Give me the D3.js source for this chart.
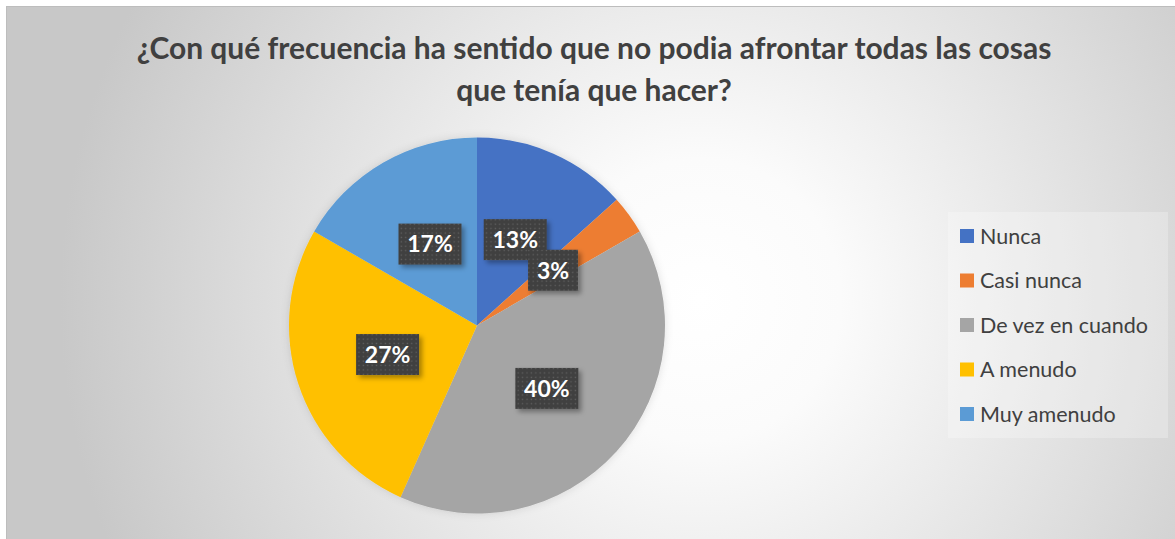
<!DOCTYPE html>
<html>
<head>
<meta charset="utf-8">
<script src="https://cdn.jsdelivr.net/npm/d3@7"></script>
<style>
  body { margin: 0; background: #ffffff; }
  svg { display: block; }
</style>
</head>
<body>
<div id="chart"></div>
<script>
var categories = ['Nunca', 'Casi nunca', 'De vez en cuando', 'A menudo', 'Muy amenudo'];
var counts = [4, 1, 12, 8, 5];
var colors = ['#4472C4', '#ED7D31', '#A5A5A5', '#FFC000', '#5B9BD5'];
var titleLines = ['¿Con qué frecuencia ha sentido que no podia afrontar todas las cosas',
    'que tenía que hacer?'];

var width = 1175, height = 539;
var svg = d3.select('#chart').append('svg')
    .attr('width', width)
    .attr('height', height);

var defs = svg.append('defs');

// chart area background
var bg = defs.append('radialGradient')
    .attr('id', 'bgGrad')
    .attr('gradientUnits', 'userSpaceOnUse')
    .attr('cx', 700).attr('cy', 300).attr('r', 640);
bg.append('stop').attr('offset', '0%').attr('stop-color', '#ffffff');
bg.append('stop').attr('offset', '22%').attr('stop-color', '#fbfbfb');
bg.append('stop').attr('offset', '100%').attr('stop-color', '#c8c8c8');

// dotted fill for the labels
var pat = defs.append('pattern')
    .attr('id', 'dots')
    .attr('patternUnits', 'userSpaceOnUse')
    .attr('width', 4.4).attr('height', 4.4);
pat.append('rect').attr('width', 4.4).attr('height', 4.4).attr('fill', '#404040');
pat.append('rect').attr('x', 1.5).attr('y', 1.5).attr('width', 1.3).attr('height', 1.3).attr('fill', '#606060');

var shadow = defs.append('filter').attr('id', 'shadow')
    .attr('x', '-30%').attr('y', '-30%').attr('width', '160%').attr('height', '160%');
shadow.append('feDropShadow')
    .attr('dx', 3).attr('dy', 3).attr('stdDeviation', 2.5)
    .attr('flood-color', '#000').attr('flood-opacity', 0.35);

var pieShadow = defs.append('filter').attr('id', 'pieShadow')
    .attr('x', '-10%').attr('y', '-10%').attr('width', '120%').attr('height', '120%');
pieShadow.append('feDropShadow')
    .attr('dx', 0).attr('dy', 0).attr('stdDeviation', 4)
    .attr('flood-color', '#000').attr('flood-opacity', 0.12);

svg.append('rect')
    .attr('x', 6.5).attr('y', 6.5)
    .attr('width', width - 6).attr('height', height - 6)
    .attr('fill', 'url(#bgGrad)')
    .attr('stroke', '#bdbdbd')
    .attr('stroke-width', 1);

// title
var title = svg.append('g').attr('class', 'title');
titleLines.forEach(function (line, i) {
    title.append('text')
        .attr('x', 594)
        .attr('y', 59 + i * 42)
        .attr('text-anchor', 'middle')
        .attr('font-family', 'Lato, "Open Sans", sans-serif')
        .attr('font-weight', 'bold')
        .attr('font-size', 26)
        .attr('fill', '#404040')
        .text(line);
});
// shrink/grow the font so the first line spans like the original
var firstLen = title.select('text').node().getComputedTextLength();
var titleSize = 26 * 915 / firstLen;
title.selectAll('text').attr('font-size', titleSize);

// pie
var cx = 477, cy = 325.5, radius = 188;
var total = d3.sum(counts);
var pie = d3.pie().sort(null).value(function (d) { return d; });
var arc = d3.arc().innerRadius(0).outerRadius(radius);
var arcs = pie(counts);

var pieG = svg.append('g')
    .attr('transform', 'translate(' + cx + ',' + cy + ')');

pieG.append('g').attr('filter', 'url(#pieShadow)')
    .selectAll('path')
    .data(arcs)
    .enter().append('path')
    .attr('d', arc)
    .attr('fill', function (d, i) { return colors[i]; });

// data labels
var labels = pieG.selectAll('g.label')
    .data(arcs)
    .enter().append('g')
    .attr('class', 'label')
    .attr('transform', function (d) {
        var c = arc.centroid(d);
        return 'translate(' + c[0] + ',' + c[1] + ')';
    });

labels.each(function (d) {
    var g = d3.select(this);
    var txt = Math.round(d.value / total * 100) + '%';
    var w = txt.length > 2 ? 63 : 50;
    g.append('rect')
        .attr('x', -w / 2).attr('y', -20.5)
        .attr('width', w).attr('height', 41)
        .attr('fill', 'url(#dots)')
        .attr('filter', 'url(#shadow)');
    g.append('text')
        .attr('text-anchor', 'middle')
        .attr('dy', '0.36em')
        .attr('font-family', 'Lato, "Open Sans", sans-serif')
        .attr('font-weight', 'bold')
        .attr('font-size', 23)
        .attr('fill', '#ffffff')
        .text(txt);
});

// legend
var legend = svg.append('g').attr('class', 'legend');
legend.append('rect')
    .attr('x', 948).attr('y', 212)
    .attr('width', 220).attr('height', 226)
    .attr('fill', '#ffffff')
    .attr('fill-opacity', 0.25);

var items = legend.selectAll('g.item')
    .data(categories)
    .enter().append('g')
    .attr('class', 'item')
    .attr('transform', function (d, i) { return 'translate(960,' + (236 + i * 44.5) + ')'; });

items.append('rect')
    .attr('x', 0).attr('y', -7)
    .attr('width', 14).attr('height', 14)
    .attr('fill', function (d, i) { return colors[i]; });

items.append('text')
    .attr('x', 20)
    .attr('dy', '0.35em')
    .attr('font-family', 'Lato, "Open Sans", sans-serif')
    .attr('font-size', 21.5)
    .attr('fill', '#404040')
    .text(function (d) { return d; });
</script>
</body>
</html>
